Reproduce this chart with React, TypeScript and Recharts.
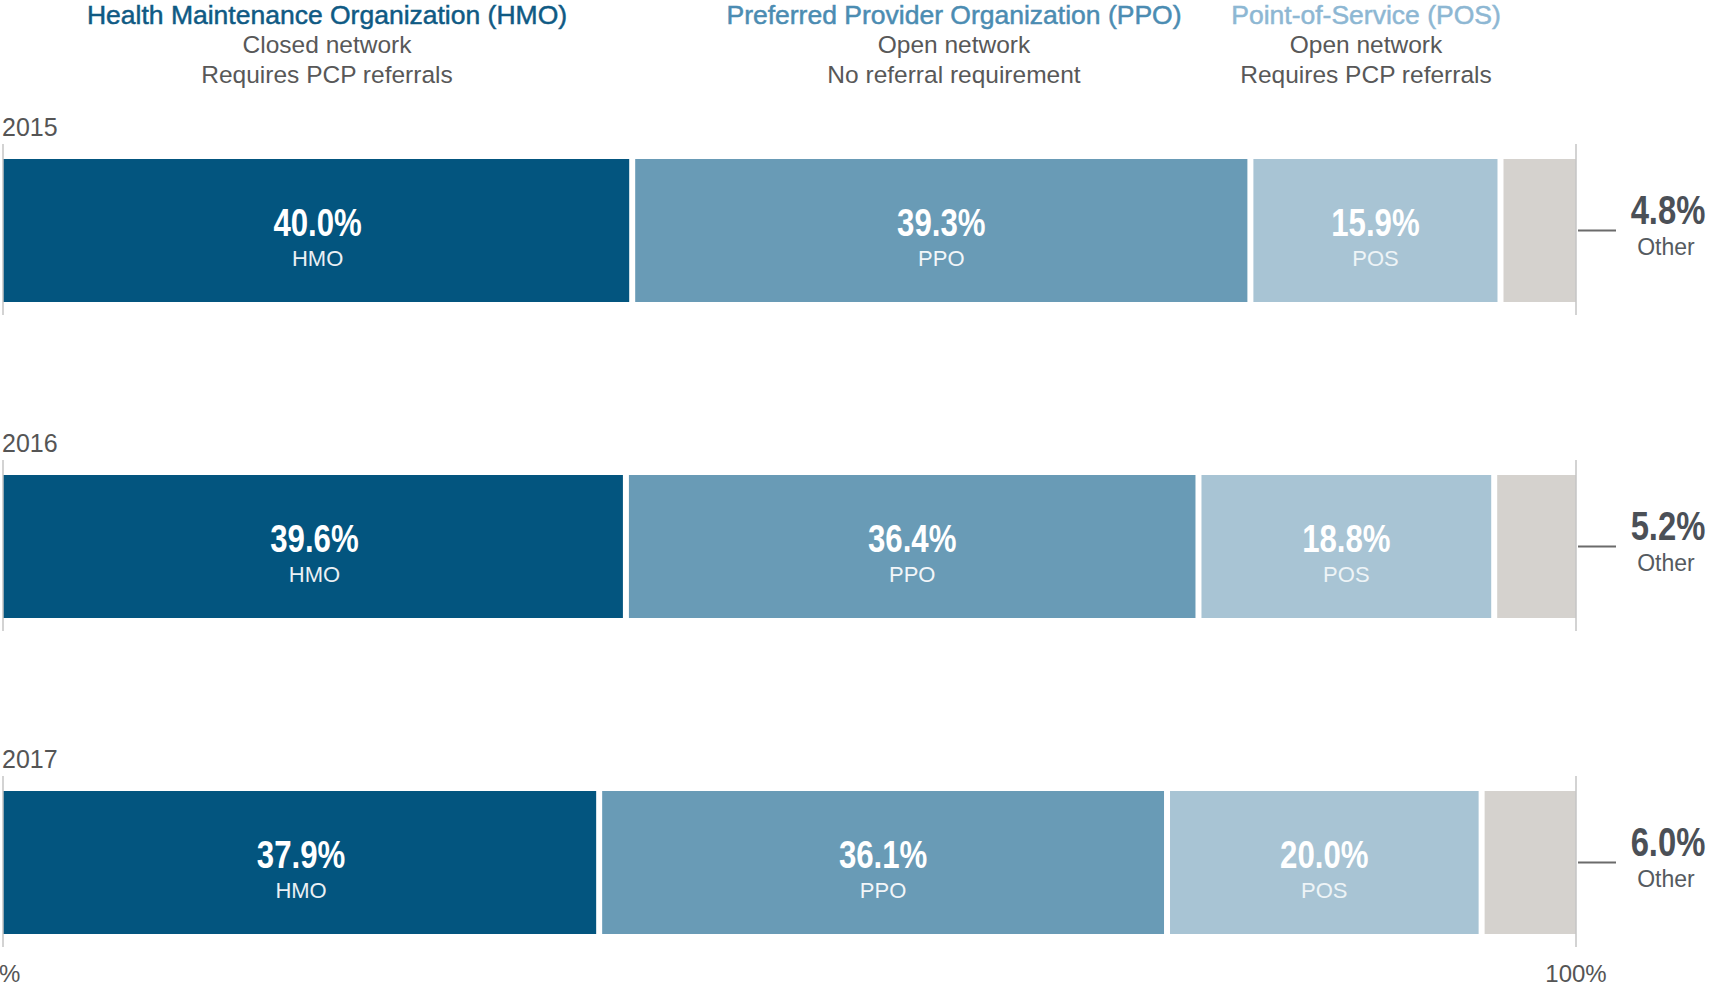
import React from 'react';
import { BarChart, Bar, XAxis, YAxis, LabelList } from 'recharts';

// Plan type enrollment shares by year
const years = ['2015', '2016', '2017'];
const hmoShare = [40.0, 39.6, 37.9];
const ppoShare = [39.3, 36.4, 36.1];
const posShare = [15.9, 18.8, 20.0];
const otherShare = [4.8, 5.2, 6.0];
const planNames = ['HMO', 'PPO', 'POS', 'Other'];
const axisTicks = [0, 100];

const headerTitles = ['Health Maintenance Organization (HMO)', 'Preferred Provider Organization (PPO)', 'Point-of-Service (POS)'];
const headerLine1 = ['Closed network', 'Open network', 'Open network'];
const headerLine2 = ['Requires PCP referrals', 'No referral requirement', 'Requires PCP referrals'];

const data = years.map((year, i) => ({
  year,
  hmo: hmoShare[i],
  ppo: ppoShare[i],
  pos: posShare[i],
  other: otherShare[i],
}));

const COLORS = ['#03557F', '#699BB6', '#A8C4D4', '#D5D2CE'];
const TITLE_COLORS = ['#0F5A84', '#4B8CB2', '#8DB7D3'];
const HEADER_X = [327, 954, 1366];
const SANS = '"Liberation Sans", Arial, Helvetica, sans-serif';
const GAP = 3;
const NARROW_SCALE = 0.8;

const box = (props: any) => {
  const vb = props.viewBox && props.viewBox.width != null ? props.viewBox : props;
  return { x: Number(vb.x), y: Number(vb.y), width: Number(vb.width), height: Number(vb.height) };
};

// trims the segment edges so stacked pieces get a white gap between them
const segmentShape = (first: boolean, last: boolean) => (props: any) => {
  const { x, y, width, height, fill } = props;
  const left = first ? 0 : GAP;
  const right = last ? 0 : GAP;
  return <rect x={x + left} y={y} width={Math.max(0, width - left - right)} height={height} fill={fill} />;
};

// condensed bold figure, squeezed horizontally from the regular sans
const BigNumber = ({ x, y, fill, size, children }: any) => (
  <text
    transform={`translate(${x},${y}) scale(${NARROW_SCALE},1)`}
    textAnchor="middle"
    fill={fill}
    fontSize={size}
    fontWeight="bold"
    fontFamily={SANS}
  >
    {children}
  </text>
);

const valueLabel = (name: string, nameColor: string) => (props: any) => {
  const { x, y, width, height } = box(props);
  const cx = x + width / 2;
  const cy = y + height / 2;
  return (
    <g>
      <BigNumber x={cx} y={cy + 5} fill="#ffffff" size={39}>
        {Number(props.value).toFixed(1)}%
      </BigNumber>
      <text x={cx} y={cy + 35} textAnchor="middle" fill={nameColor} fontSize={22} fontFamily={SANS}>
        {name}
      </text>
    </g>
  );
};

const yearLabel = (props: any) => {
  const { x, y, height } = box(props);
  return (
    <g>
      <line x1={x} x2={x} y1={y - 15} y2={y + height + 13} stroke="#C4C4C4" strokeWidth={1.5} />
      <text x={x - 1} y={y - 23} fill="#555555" fontSize={25} fontFamily={SANS}>
        {props.value}
      </text>
    </g>
  );
};

const otherLabel = (props: any) => {
  const { x, y, width, height } = box(props);
  const xr = x + width;
  const cy = y + height / 2;
  return (
    <g>
      <line x1={xr} x2={xr} y1={y - 15} y2={y + height + 13} stroke="#C4C4C4" strokeWidth={1.5} />
      <line x1={xr + 2} x2={xr + 40} y1={cy} y2={cy} stroke="#6B6B6B" strokeWidth={2} />
      <BigNumber x={xr + 92} y={cy - 7} fill="#4B5057" size={41}>
        {Number(props.value).toFixed(1)}%
      </BigNumber>
      <text x={xr + 90} y={cy + 24} textAnchor="middle" fill="#555A60" fontSize={23} fontFamily={SANS}>
        {planNames[3]}
      </text>
    </g>
  );
};

const axisTick = (props: any) => {
  const { x, y, payload } = props;
  return (
    <text x={x} y={y - 46} textAnchor="middle" fill="#555555" fontSize={24} fontFamily={SANS}>
      {payload.value}%
    </text>
  );
};

export default function App() {
  return (
    <div style={{ position: 'absolute', left: 0, top: 0, width: 1709, height: 987, overflow: 'hidden', background: '#fff' }}>
      {headerTitles.map((title, i) => (
        <div
          key={title}
          style={{
            position: 'absolute',
            left: HEADER_X[i],
            top: 0,
            transform: 'translateX(-50%)',
            whiteSpace: 'nowrap',
            textAlign: 'center',
            fontFamily: SANS,
          }}
        >
          <div style={{ color: TITLE_COLORS[i], fontSize: 26.5, lineHeight: '30px', WebkitTextStroke: `0.5px ${TITLE_COLORS[i]}` }}>{title}</div>
          <div style={{ color: '#585858', fontSize: 24.5, lineHeight: '29.5px' }}>{headerLine1[i]}</div>
          <div style={{ color: '#585858', fontSize: 24.5, lineHeight: '29.5px' }}>{headerLine2[i]}</div>
        </div>
      ))}
      <div style={{ position: 'absolute', left: 0, top: 0 }}>
        <BarChart
          layout="vertical"
          width={1709}
          height={1050}
          data={data}
          margin={{ top: 72, right: 133, left: 3, bottom: 0 }}
          barSize={143}
        >
          <XAxis
            type="number"
            domain={[0, 100]}
            ticks={axisTicks}
            interval={0}
            axisLine={false}
            tickLine={false}
            tick={axisTick}
            height={30}
          />
          <YAxis type="category" dataKey="year" hide />
          <Bar dataKey="hmo" stackId="a" fill={COLORS[0]} shape={segmentShape(true, false)} isAnimationActive={false}>
            <LabelList dataKey="year" content={yearLabel} />
            <LabelList dataKey="hmo" content={valueLabel(planNames[0], '#EAF0F4')} />
          </Bar>
          <Bar dataKey="ppo" stackId="a" fill={COLORS[1]} shape={segmentShape(false, false)} isAnimationActive={false}>
            <LabelList dataKey="ppo" content={valueLabel(planNames[1], '#F2F6F9')} />
          </Bar>
          <Bar dataKey="pos" stackId="a" fill={COLORS[2]} shape={segmentShape(false, false)} isAnimationActive={false}>
            <LabelList dataKey="pos" content={valueLabel(planNames[2], '#EEF4F7')} />
          </Bar>
          <Bar dataKey="other" stackId="a" fill={COLORS[3]} shape={segmentShape(false, true)} isAnimationActive={false}>
            <LabelList dataKey="other" content={otherLabel} />
          </Bar>
        </BarChart>
      </div>
    </div>
  );
}
